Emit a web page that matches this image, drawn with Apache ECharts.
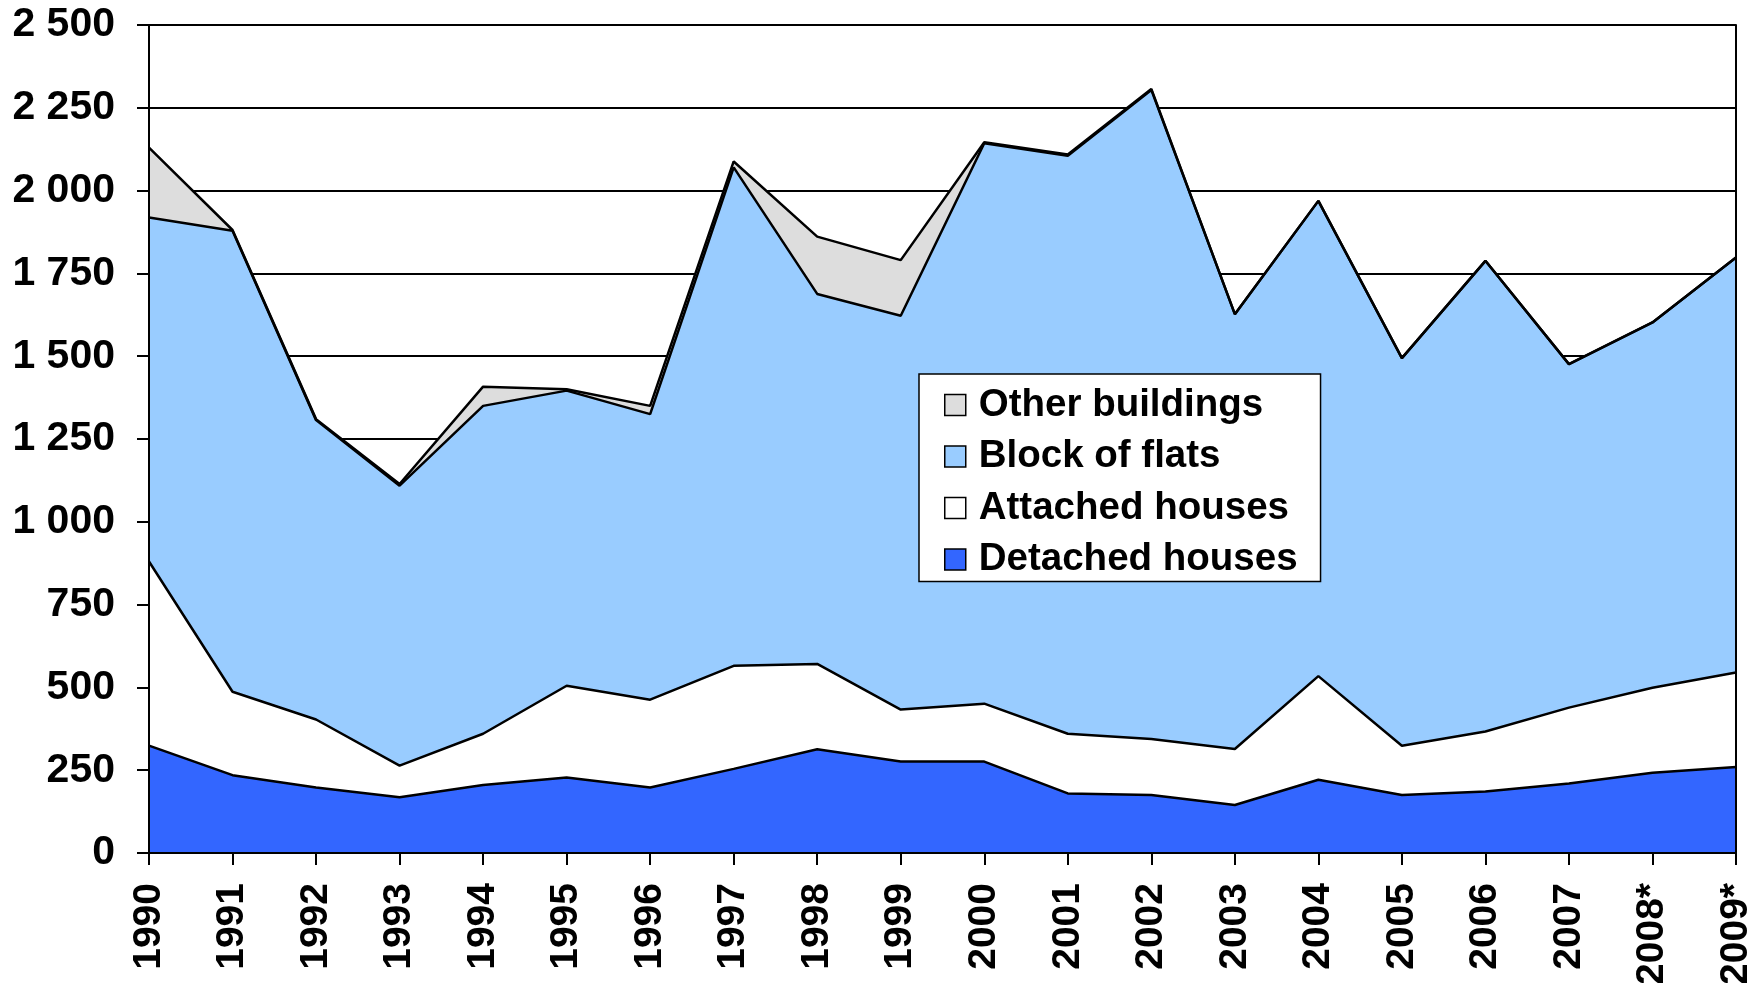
<!DOCTYPE html>
<html>
<head>
<meta charset="utf-8">
<title>Dwellings completed by type of building</title>
<script src="https://cdn.jsdelivr.net/npm/echarts@6/dist/echarts.min.js"></script>
<style>
  html, body { margin: 0; padding: 0; background: #fff; }
  #chart { width: 1760px; height: 983px; }
</style>
</head>
<body>
<div id="chart"></div>
<script>
// categories and stacked values
const years = ['1990', '1991', '1992', '1993', '1994', '1995', '1996', '1997', '1998', '1999',
  '2000', '2001', '2002', '2003', '2004', '2005', '2006', '2007', '2008*', '2009*'];
const detached = [324, 235, 198, 168, 205, 228, 198, 254, 313, 276, 276, 180, 175, 145, 221, 175, 186, 210, 242, 260];
const attached = [556, 252, 205, 96, 155, 277, 265, 311, 258, 157, 175, 180, 169, 169, 313, 149, 181, 229, 257, 285];
const flats = [1039, 1392, 904, 845, 990, 891, 862, 1505, 1117, 1189, 1692, 1745, 1960, 1313, 1435, 1170, 1421, 1037, 1103, 1253];
const other = [211, 2, 3, 5, 58, 4, 25, 18, 173, 168, 3, 4, 3, 0, 0, 0, 0, 0, 0, 0];
const yTicks = { min: 0, max: 2500, interval: 250 };

const FONT = '"Liberation Sans", Arial, sans-serif';
const black = '#000';

function areaSeries(name, data, fill) {
  return {
    name: name,
    type: 'line',
    stack: 'total',
    data: data,
    showSymbol: false,
    symbol: 'none',
    itemStyle: { color: fill },
    lineStyle: { color: black, width: 2.5 },
    areaStyle: { color: fill, opacity: 1 },
    emphasis: { disabled: true }
  };
}

const chart = echarts.init(document.getElementById('chart'), null, { renderer: 'canvas' });

chart.setOption({
  animation: false,
  backgroundColor: '#fff',
  grid: {
    left: 149,
    right: 24,
    top: 25,
    bottom: 130,
    containLabel: false,
    outerBoundsMode: 'none'
  },
  legend: {
    orient: 'vertical',
    left: 919,
    top: 374,
    data: ['Other buildings', 'Block of flats', 'Attached houses', 'Detached houses'],
    icon: 'rect',
    itemWidth: 21,
    itemHeight: 21,
    itemGap: 7.5,
    padding: [9, 23, 0, 25],
    backgroundColor: '#fff',
    borderColor: black,
    borderWidth: 1.5,
    borderRadius: 0,
    itemStyle: { borderColor: black, borderWidth: 1.5 },
    textStyle: {
      color: black,
      fontFamily: FONT,
      fontWeight: 'bold',
      fontSize: 38.5,
      lineHeight: 44,
      padding: [0, 0, 0, 8]
    },
    selectedMode: false
  },
  xAxis: {
    type: 'category',
    data: years,
    boundaryGap: false,
    z: 10,
    axisLine: { lineStyle: { color: black, width: 2 } },
    axisTick: { show: true, inside: false, length: 12, interval: 0, lineStyle: { color: black, width: 2 } },
    axisLabel: {
      interval: 0,
      rotate: 90,
      margin: 30,
      color: black,
      fontFamily: FONT,
      fontWeight: 'bold',
      fontSize: 39
    },
    splitLine: { show: false }
  },
  yAxis: [
    {
      type: 'value',
      position: 'left',
      min: yTicks.min, max: yTicks.max, interval: yTicks.interval,
      z: 10,
      axisLine: { show: true, lineStyle: { color: black, width: 2 } },
      axisTick: { show: true, inside: false, length: 12, lineStyle: { color: black, width: 2 } },
      axisLabel: {
        margin: 34,
        color: black,
        fontFamily: FONT,
        fontWeight: 'bold',
        fontSize: 41,
        formatter: v => String(v).replace(/\B(?=(\d{3})+(?!\d))/g, ' ')
      },
      splitLine: { show: false }
    },
    {
      // right border of the plot area
      type: 'value',
      position: 'right',
      min: yTicks.min, max: yTicks.max, interval: yTicks.interval,
      z: 10,
      axisLine: { show: true, lineStyle: { color: black, width: 2 } },
      axisTick: { show: false },
      axisLabel: { show: false },
      splitLine: { show: false }
    },
    {
      // gridlines, kept behind the areas
      type: 'value',
      position: 'left',
      min: yTicks.min, max: yTicks.max, interval: yTicks.interval,
      axisLine: { show: false },
      axisTick: { show: false },
      axisLabel: { show: false },
      splitLine: { show: true, lineStyle: { color: black, width: 2 } }
    }
  ],
  series: [
    areaSeries('Detached houses', detached, '#3366ff'),
    areaSeries('Attached houses', attached, '#ffffff'),
    areaSeries('Block of flats', flats, '#99ccff'),
    areaSeries('Other buildings', other, '#dddddd')
  ]
});
</script>
</body>
</html>
